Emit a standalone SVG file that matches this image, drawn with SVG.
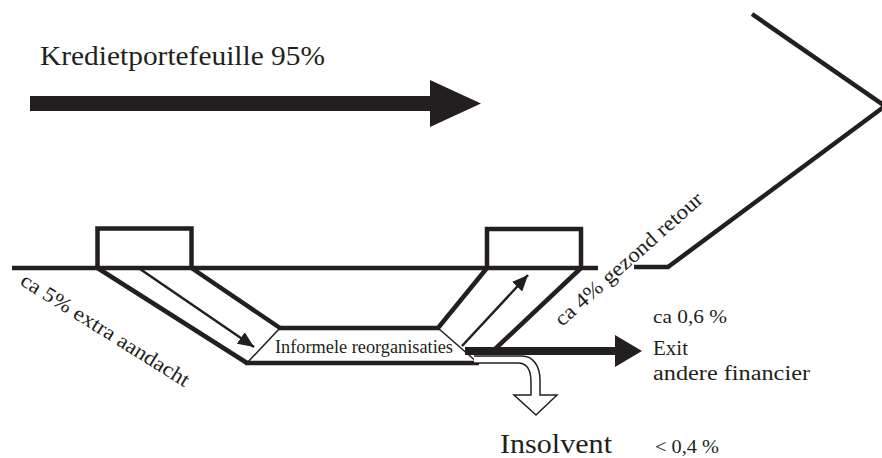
<svg xmlns="http://www.w3.org/2000/svg" width="882" height="458" viewBox="0 0 882 458">
<defs>
<style>
.thick{fill:none;stroke:#231f20;stroke-width:4.5;stroke-linejoin:miter;stroke-linecap:butt}
.thin{fill:none;stroke:#231f20;stroke-width:1.5}
.arr{fill:none;stroke:#231f20;stroke-width:2.5}
.solid{fill:#231f20;stroke:none}
.t{font-family:"Liberation Serif","DejaVu Serif",serif;fill:#231f20}
</style>
<marker id="head" markerUnits="userSpaceOnUse" markerWidth="18" markerHeight="14" refX="16" refY="7" orient="auto">
<path d="M0,0 L16,7 L0,14 Z" fill="#231f20"/>
</marker>
</defs>
<rect width="882" height="458" fill="#ffffff"/>

<g id="portfolio-arrow">
<path class="solid" d="M30,96 L430,96 L430,80 L481,103.5 L430,127 L430,111 L30,111 Z"/>
<text class="t" x="40" y="65" font-size="27" textLength="285" lengthAdjust="spacingAndGlyphs">Kredietportefeuille 95%</text>
</g>

<g id="baseline">
<path class="thick" d="M12,268 L598,268"/>
<path class="thick" d="M634,267 L668,267 L885,106 L752,14"/>
</g>

<g id="box-left">
<path class="thick" d="M97.5,268 L97.5,228.5 L191.5,228.5 L191.5,268"/>
</g>

<g id="box-right">
<path class="thick" d="M487,268 L487,229 L581,229 L581,268"/>
</g>

<g id="band-left">
<path class="thick" d="M97.5,268 L247,363"/>
<path class="thick" d="M191.5,268 L280,328"/>
</g>

<g id="informele-reorganisaties">
<path class="thick" d="M278,328 L440,328"/>
<path class="thick" d="M245,363 L479,363"/>
<path class="thin" d="M280,328 L247,363"/>
<path class="thin" d="M438,328 L478,363"/>
<text class="t" x="275" y="353" font-size="18" textLength="178" lengthAdjust="spacingAndGlyphs">Informele reorganisaties</text>
</g>

<g id="band-right">
<path class="thick" d="M438,328 L487,268"/>
<path class="thick" d="M581,268 L494,350"/>
</g>

<g id="connectors">
<path class="arr" d="M140,269 L254,347" marker-end="url(#head)"/>
<path class="arr" d="M462,346 L528,275" marker-end="url(#head)"/>
<path class="solid" d="M465,347 L615,347 L615,335 L642,351 L615,367 L615,355 L465,355 Z"/>
<path d="M474,356 L522,356 C533,356 540,366 540,380 L540,395 L557,395 L536,415 L514,395 L531,395 L531,382 C531,370 527,363 518,363 L474,363" fill="#ffffff" stroke="#231f20" stroke-width="1.5"/>
</g>

<g id="labels">
<text class="t" font-size="21" textLength="195" lengthAdjust="spacingAndGlyphs" transform="translate(19,284) rotate(32)">ca 5% extra aandacht</text>
<text class="t" font-size="21" textLength="190" lengthAdjust="spacingAndGlyphs" transform="translate(562,327) rotate(-41.5)">ca 4% gezond retour</text>
<text class="t" x="653" y="323" font-size="18" textLength="74" lengthAdjust="spacingAndGlyphs">ca 0,6 %</text>
<text class="t" x="653" y="355" font-size="20" textLength="35" lengthAdjust="spacingAndGlyphs">Exit</text>
<text class="t" x="653" y="380" font-size="20" textLength="157" lengthAdjust="spacingAndGlyphs">andere financier</text>
<text class="t" x="500" y="453" font-size="28" textLength="112" lengthAdjust="spacingAndGlyphs">Insolvent</text>
<text class="t" x="655" y="453" font-size="18" textLength="64" lengthAdjust="spacingAndGlyphs">&lt; 0,4 %</text>
</g>
</svg>
